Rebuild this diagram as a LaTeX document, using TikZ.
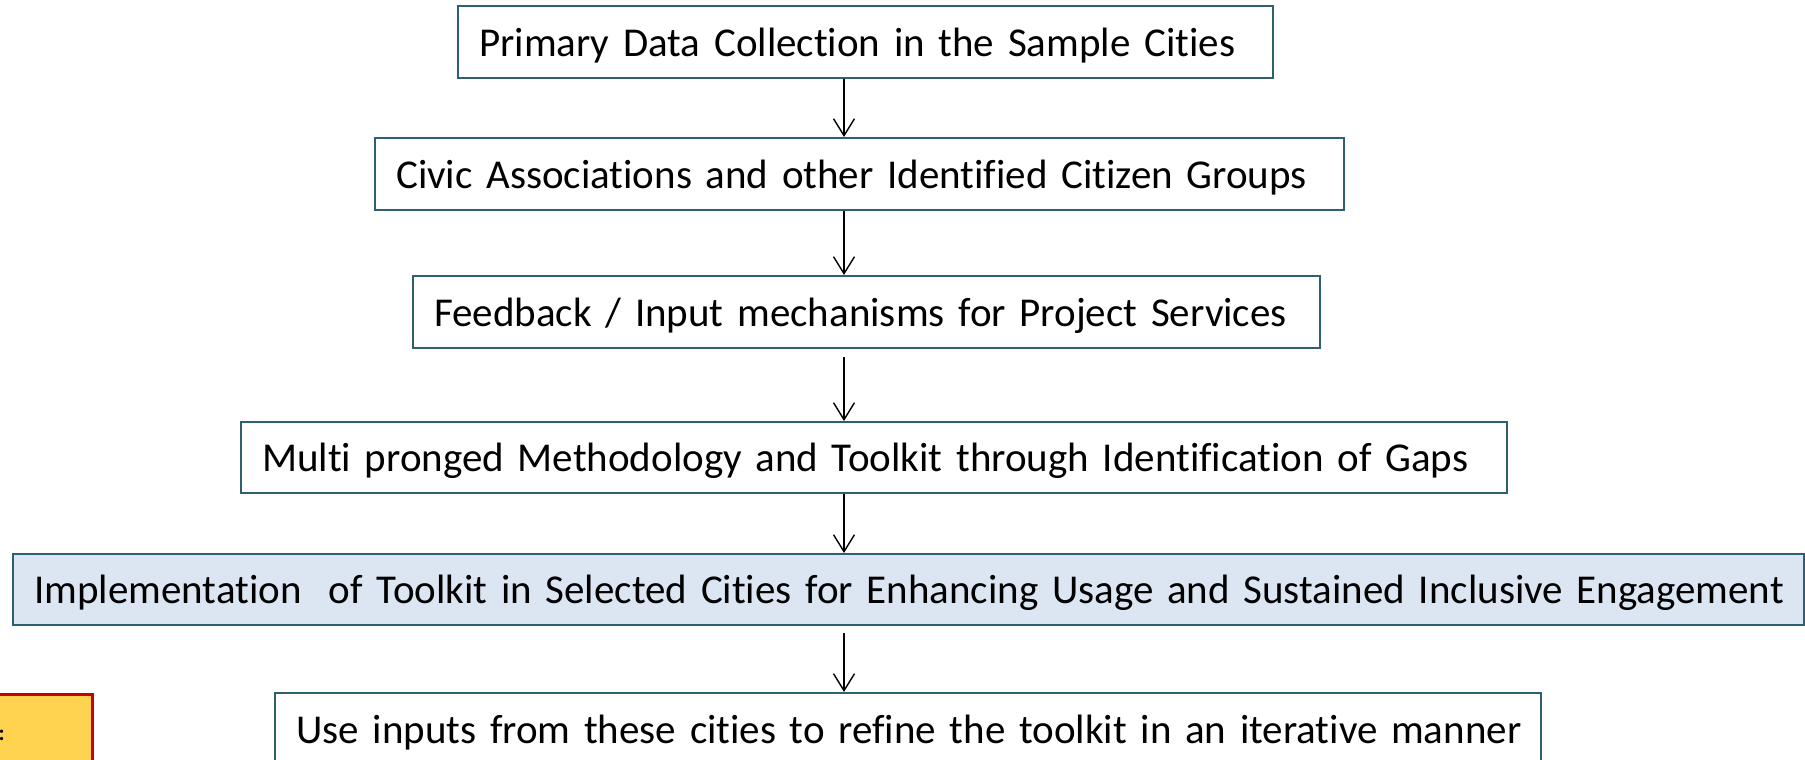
\documentclass[tikz,border=0pt]{standalone}
\usepackage{fontspec}
\setmainfont{Carlito}[Ligatures={NoCommon}]
\usetikzlibrary{arrows.meta}
\definecolor{boxc}{RGB}{47,96,112}
\definecolor{hlfill}{RGB}{220,230,242}
\definecolor{notefill}{RGB}{255,210,80}
\definecolor{notedraw}{RGB}{200,0,0}
\tikzset{
  box/.style={draw=boxc, line width=2.4pt, anchor=north west, inner xsep=21pt, inner ysep=0pt,
    minimum height=72pt, text height=28pt, text depth=0pt, align=left,
    font=\fontsize{41}{49}\selectfont},
  arr/.style={line width=1.4pt, -{Straight Barb[length=17pt,width=21pt,line width=1.4pt]}},
  notebox/.style={draw=notedraw, fill=notefill, line width=2.6pt, anchor=north east, minimum width=130pt, minimum height=110pt, inner sep=0pt}
}
\begin{document}
\begin{tikzpicture}[x=1pt,y=-1pt]
\useasboundingbox (0,0) rectangle (1805,760);
\node[box, text width=773pt] (b1) at (457,5) {\mbox{Primary Data Collection in the Sample Cities}};
\node[box, text width=927pt] (b2) at (374,137) {\mbox{Civic Associations and other Identified Citizen Groups}};
\node[box, text width=865pt] (b3) at (412,275) {\mbox{Feedback / Input mechanisms for Project Services}};
\node[box, text width=1224pt, minimum height=71pt] (b4) at (240,421) {\mbox{Multi pronged Methodology and Toolkit through Identification of Gaps}};
\node[box, fill=hlfill, text width=1749pt, minimum height=71pt] (b5) at (12,553) {\mbox{Implementation\ \ of Toolkit in Selected Cities for Enhancing Usage and Sustained Inclusive Engagement}};
\node[box, text width=1224pt] (b6) at (274,692) {\mbox{Use inputs from these cities to refine the toolkit in an iterative manner}};
\node[notebox] (note) at (94,693) {};
\node[font=\bfseries\fontsize{22}{26}\selectfont, anchor=base east, inner sep=0pt] (notetext) at (5,740) {:};
\coordinate (ax) at (844,0);
\draw[arr] (b1.south -| ax) -- (b2.north -| ax);
\draw[arr] (b2.south -| ax) -- (b3.north -| ax);
\draw[arr, shorten <=8pt] (b3.south -| ax) -- (b4.north -| ax);
\draw[arr] (b4.south -| ax) -- (b5.north -| ax);
\draw[arr, shorten <=7pt] (b5.south -| ax) -- (b6.north -| ax);
\end{tikzpicture}
\end{document}
